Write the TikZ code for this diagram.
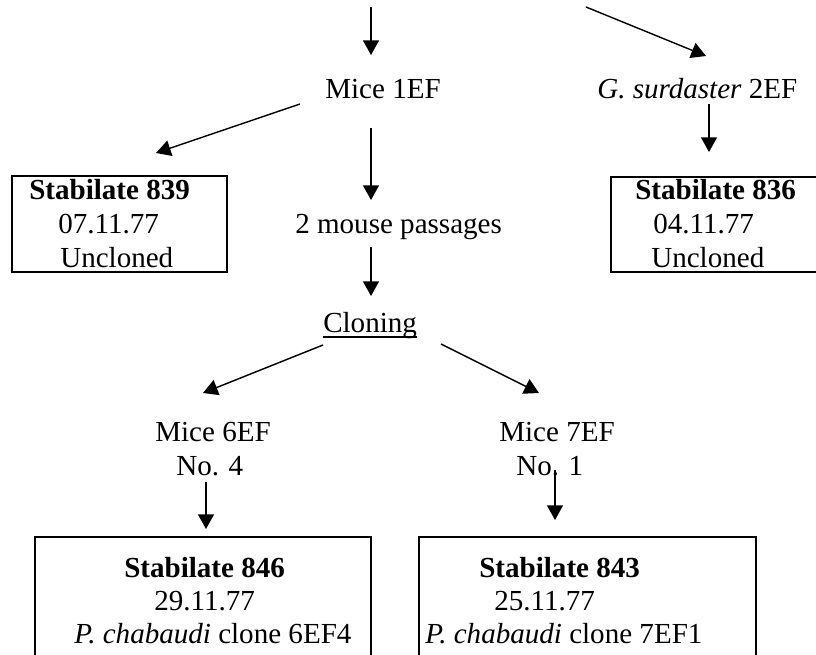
\documentclass[tikz,border=0pt]{standalone}
\usepackage{fontspec}
\setmainfont{Liberation Serif}
\usetikzlibrary{arrows.meta}
\begin{document}
\begin{tikzpicture}[x=0.75pt,y=-0.75pt,
  txt/.style={anchor=base west,inner sep=0pt,font=\fontsize{21.8pt}{26pt}\selectfont},
  boxline/.style={draw=black,line width=1.4pt},
  uline/.style={line width=1.1pt},
  arr/.style={line width=1.05pt,-{Triangle[width=12pt,length=11pt]}}]
\useasboundingbox (0,0) rectangle (816,655);
\clip (0,0) rectangle (816,655);
% boxes
\draw[boxline] (12,176) rectangle (227,272);
\draw[boxline] (611,177) rectangle (840,272);
\draw[boxline] (35,537) rectangle (371,700);
\draw[boxline] (419,537) rectangle (756,700);
% texts
\node[txt] (mice1) at (325,99) {Mice 1EF};
\node[txt] (gsurd) at (597,99) {\textit{G. surdaster} 2EF};
\node[txt] (s839) at (29,200) {\textbf{Stabilate 839}};
\node[txt] (d839) at (58,234) {07.11.77};
\node[txt] (u839) at (60,268) {Uncloned};
\node[txt] (s836) at (635,200) {\textbf{Stabilate 836}};
\node[txt] (d836) at (653,234) {04.11.77};
\node[txt] (u836) at (651,268) {Uncloned};
\node[txt] (pass) at (295,234) {2 mouse passages};
\node[txt] (clon) at (323,333) {Cloning};
\draw[uline] ([yshift=-3pt]clon.base west) -- ([yshift=-3pt]clon.base east);
\node[txt] (mice6) at (155,441) {Mice 6EF};
\node[txt] (no4) at (176,475) {No. 4};
\node[txt] (mice7) at (499,441) {Mice 7EF};
\node[txt] (no1) at (516,475) {No. 1};
\node[txt] (s846) at (124,577) {\textbf{Stabilate 846}};
\node[txt] (d846) at (154,610) {29.11.77};
\node[txt] (p846) at (74,643) {\textit{P. chabaudi} clone 6EF4};
\node[txt] (s843) at (479,577) {\textbf{Stabilate 843}};
\node[txt] (d843) at (494,610) {25.11.77};
\node[txt] (p843) at (425,643) {\textit{P. chabaudi} clone 7EF1};
% arrow end points
\coordinate (a1s) at (371,7);   \coordinate (a1e) at (371,55);
\coordinate (a2s) at (586,7);   \coordinate (a2e) at (706,56);
\coordinate (a3s) at (300,104); \coordinate (a3e) at (156,153);
\coordinate (a4s) at (371,128); \coordinate (a4e) at (371,200);
\coordinate (a5s) at (709,104); \coordinate (a5e) at (709,152);
\coordinate (a6s) at (371,247); \coordinate (a6e) at (371,296);
\coordinate (a7s) at (323,345); \coordinate (a7e) at (203,393);
\coordinate (a8s) at (441,344); \coordinate (a8e) at (539,393);
\coordinate (a9s) at (206,482); \coordinate (a9e) at (206,529);
\coordinate (a10s) at (555,470); \coordinate (a10e) at (555,520);
\draw[arr] (a1s) -- (a1e);
\draw[arr] (a2s) -- (a2e);
\draw[arr] (a3s) -- (a3e);
\draw[arr] (a4s) -- (a4e);
\draw[arr] (a5s) -- (a5e);
\draw[arr] (a6s) -- (a6e);
\draw[arr] (a7s) -- (a7e);
\draw[arr] (a8s) -- (a8e);
\draw[arr] (a9s) -- (a9e);
\draw[arr] (a10s) -- (a10e);
\end{tikzpicture}
\end{document}
